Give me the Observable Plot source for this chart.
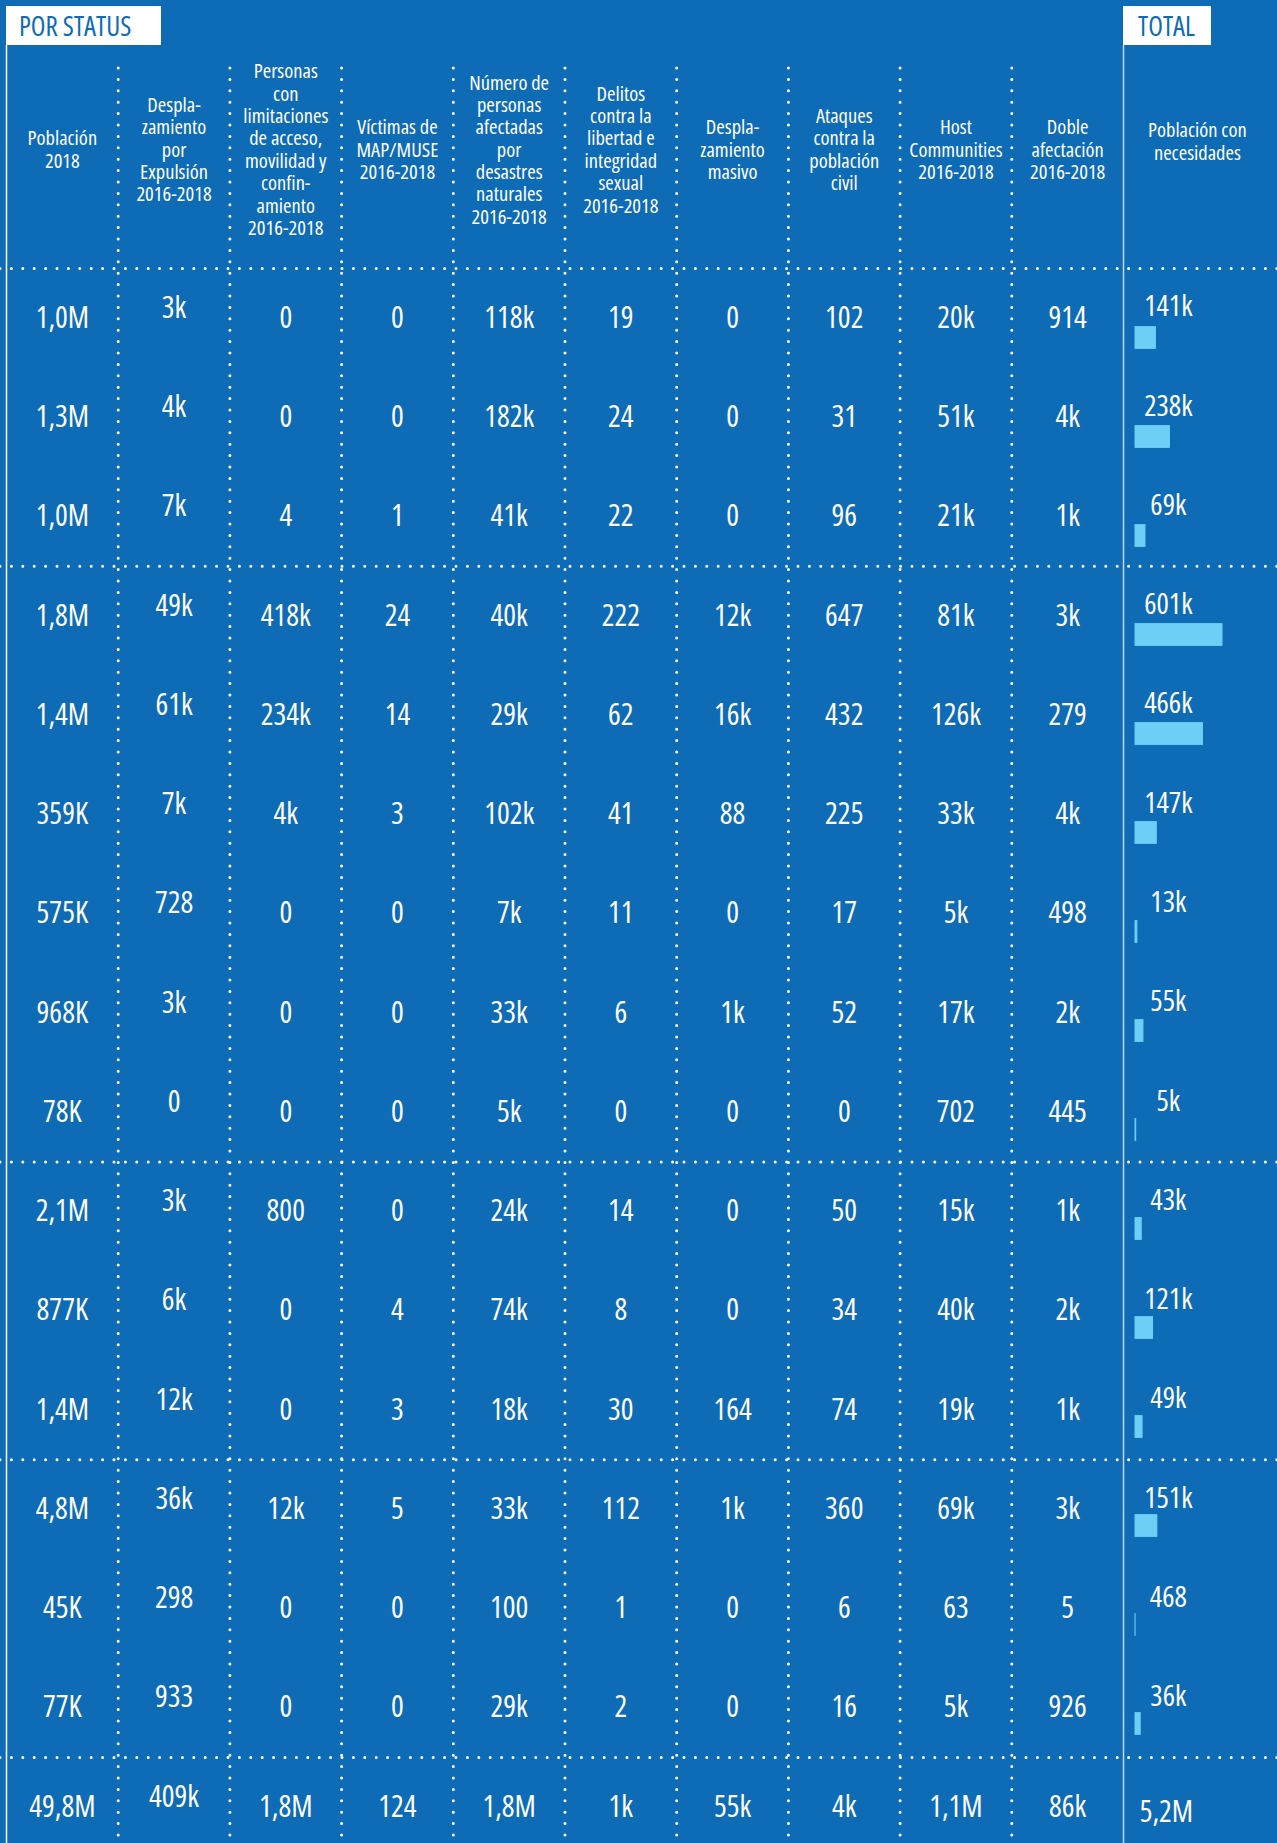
<!DOCTYPE html>
<html><head><meta charset="utf-8">
<script src="https://cdn.jsdelivr.net/npm/d3@7"></script>
<script src="https://cdn.jsdelivr.net/npm/@observablehq/plot@0.6"></script>
<style>
html,body{margin:0;padding:0;background:#0e6bb5;}
#wrap{position:relative;width:1277px;height:1843px;overflow:hidden;font-family:"Open Sans",sans-serif;font-stretch:75%;}
#wrap svg{position:absolute;left:0;top:0;font-stretch:75%;}
.tag{position:absolute;top:6px;height:39px;background:#fff;color:#0e6bb5;font-size:27px;font-weight:500;line-height:39px;box-sizing:border-box;z-index:5;white-space:nowrap;}
</style></head><body>
<div id="wrap">
  <div class="tag" style="left:6px;width:155px;padding-left:13px;">POR STATUS</div>
  <div class="tag" style="left:1123px;width:88px;padding-left:15px;">TOTAL</div>
</div>
<script>
const headers = [
  "Población\n2018",
  "Despla-\nzamiento\npor\nExpulsión\n2016-2018",
  "Personas\ncon\nlimitaciones\nde acceso,\nmovilidad y\nconfin-\namiento\n2016-2018",
  "Víctimas de\nMAP/MUSE\n2016-2018",
  "Número de\npersonas\nafectadas\npor\ndesastres\nnaturales\n2016-2018",
  "Delitos\ncontra la\nlibertad e\nintegridad\nsexual\n2016-2018",
  "Despla-\nzamiento\nmasivo",
  "Ataques\ncontra la\npoblación\ncivil",
  "Host\nCommunities\n2016-2018",
  "Doble\nafectación\n2016-2018",
  "Población con\nnecesidades"
];
const groupSizes = [3, 6, 3, 3, 1];
const poblacion2018 = ["1,0M","1,3M","1,0M","1,8M","1,4M","359K","575K","968K","78K","2,1M","877K","1,4M","4,8M","45K","77K","49,8M"];
const desplExpulsion = ["3k","4k","7k","49k","61k","7k","728","3k","0","3k","6k","12k","36k","298","933","409k"];
const personasLimitaciones = ["0","0","4","418k","234k","4k","0","0","0","800","0","0","12k","0","0","1,8M"];
const victimasMAP = ["0","0","1","24","14","3","0","0","0","0","4","3","5","0","0","124"];
const desastresNaturales = ["118k","182k","41k","40k","29k","102k","7k","33k","5k","24k","74k","18k","33k","100","29k","1,8M"];
const delitosSexuales = ["19","24","22","222","62","41","11","6","0","14","8","30","112","1","2","1k"];
const desplMasivo = ["0","0","0","12k","16k","88","0","1k","0","0","0","164","1k","0","0","55k"];
const ataquesCivil = ["102","31","96","647","432","225","17","52","0","50","34","74","360","6","16","4k"];
const hostCommunities = ["20k","51k","21k","81k","126k","33k","5k","17k","702","15k","40k","19k","69k","63","5k","1,1M"];
const dobleAfectacion = ["914","4k","1k","3k","279","4k","498","2k","445","1k","2k","1k","3k","5","926","86k"];
const necesidadesLabels = ["141k","238k","69k","601k","466k","147k","13k","55k","5k","43k","121k","49k","151k","468","36k","5,2M"];
const necesidadesValues = [141000,238000,69000,601000,466000,147000,13000,55000,5000,43000,121000,49000,151000,468,36000];

const FONT = '"Open Sans",sans-serif';
const W = 1277, H = 1843;
const TOP = 268;
const rowH = (1757 - TOP) / 15;
const colW = (1123 - 6) / 10;

const columnValues = [poblacion2018, desplExpulsion, personasLimitaciones, victimasMAP, desastresNaturales,
  delitosSexuales, desplMasivo, ataquesCivil, hostCommunities, dobleAfectacion, necesidadesLabels];
const nRows = poblacion2018.length;
const nCols = columnValues.length;
const cells = columnValues.flatMap((vals, col) => vals.map((label, row) => ({col, row, label})));
const totalCol = nCols - 1;
const boundaries = [];
groupSizes.reduce((acc, s) => { boundaries.push(acc); return acc + s; }, 0);

const yScale = {type: "linear", domain: [0, nRows], range: [TOP, TOP + nRows * rowH]};
const xScale = {type: "linear", domain: [0, nCols], range: [6, 6 + nCols * colW]};

const dotted = {stroke: "#fff", strokeWidth: 3, strokeDasharray: "0 11.4", strokeLinecap: "round"};
const HF = 20.5, VF = 30, WT = 400;

const main = Plot.plot({
  width: W, height: H,
  marginTop: TOP, marginBottom: 0, marginLeft: 0, marginRight: 0,
  x: {...xScale, axis: null},
  y: {...yScale, axis: null},
  style: {background: "transparent", fontFamily: FONT, color: "#fff", overflow: "visible"},
  marks: [
    Plot.ruleY(boundaries, {y: d => d, ...dotted}),
    Plot.ruleX(d3.range(1, totalCol), {x: d => d, insetTop: -200, ...dotted}),
    Plot.ruleX([0], {x: d => d, insetTop: -223, stroke: "#ffffff", strokeWidth: 1.5}),
    Plot.ruleX([totalCol], {x: d => d, insetTop: -223, stroke: "#c9d5e2", strokeWidth: 1.5}),
    // headers
    Plot.text(headers.slice(0, totalCol), {x: (d, i) => i + 0.5, text: d => d, frameAnchor: "top", dy: -119,
      lineAnchor: "middle", lineHeight: 1.09, fontSize: HF, fontWeight: WT, fill: "#fff"}),
    Plot.text(headers.slice(totalCol), {x: () => totalCol + 0.5, text: d => d, frameAnchor: "top", dx: 18, dy: -127,
      lineAnchor: "middle", lineHeight: 1.09, fontSize: HF, fontWeight: WT, fill: "#fff"}),
    // values
    Plot.text(cells.filter(d => d.col !== 1 && d.col !== totalCol), {x: d => d.col + 0.5, y: d => d.row + 0.5,
      text: "label", fontSize: VF, fontWeight: WT, fill: "#fff"}),
    Plot.text(cells.filter(d => d.col === 1), {x: d => d.col + 0.5, y: d => d.row + 0.5, dy: -10,
      text: "label", fontSize: VF, fontWeight: WT, fill: "#fff"}),
    Plot.text(cells.filter(d => d.col === totalCol && d.row < nRows - 1), {x: d => d.col + 0.5, y: d => d.row + 0.5,
      dx: -11, dy: -11, text: "label", fontSize: 29, fontWeight: WT, fill: "#fff"}),
    Plot.text(cells.filter(d => d.col === totalCol && d.row === nRows - 1), {x: d => d.col + 0.5, y: d => d.row + 0.5,
      dx: -13, dy: 5, text: "label", fontSize: VF, fontWeight: WT, fill: "#fff"})
  ]
});

const barsData = necesidadesValues.map((value, row) => ({row, value}));
const bars = Plot.plot({
  width: W, height: H,
  marginTop: 0, marginBottom: 0, marginLeft: 0, marginRight: 0,
  x: {type: "linear", domain: [0, d3.max(necesidadesValues)], range: [1135, 1222], axis: null},
  y: {type: "band", domain: d3.range(nRows), range: [TOP, TOP + nRows * rowH], padding: 0, axis: null},
  style: {background: "transparent", overflow: "visible"},
  marks: [
    Plot.barX(barsData, {x: "value", y: "row", fill: "#6dcff6", stroke: "#6dcff6", strokeWidth: 1,
      insetTop: rowH / 2 + 7, insetBottom: rowH / 2 - 29})
  ]
});

const wrap = document.getElementById("wrap");
wrap.appendChild(main);
wrap.appendChild(bars);
</script>
</body></html>
